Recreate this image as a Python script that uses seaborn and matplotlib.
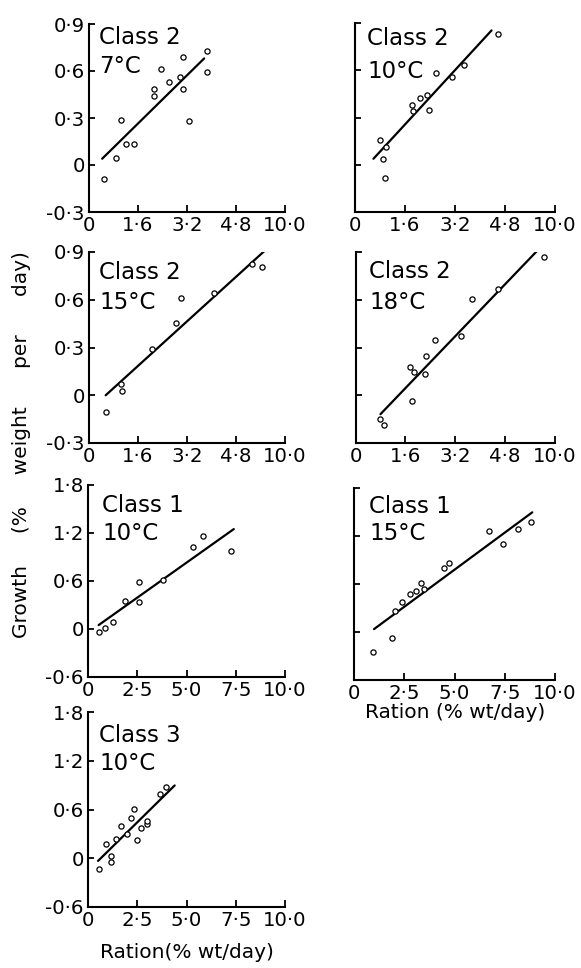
import matplotlib
matplotlib.use("Agg")
import matplotlib.pyplot as plt
import seaborn as sns
import pandas as pd

sns.set_style("ticks")
plt.rcParams['font.family'] = ['DejaVu Sans']
for k in ["text.color", "axes.labelcolor", "xtick.color", "ytick.color", "axes.edgecolor"]:
    plt.rcParams[k] = "black"

# ---------------- data ----------------
# Class 2, 7 C
p1_x = [0.49, 0.88, 1.03, 1.21, 1.46, 2.11, 2.11, 2.35, 2.62, 2.98, 3.06, 3.08, 3.28, 3.84, 3.86]
p1_y = [-0.087, 0.043, 0.285, 0.132, 0.132, 0.487, 0.44, 0.615, 0.53, 0.56, 0.69, 0.487, 0.28, 0.73, 0.595]
p1_line_x = [0.43, 3.76]
p1_line_y = [0.04, 0.68]
# Class 2, 10 C
p2_x = [0.80, 0.91, 0.98, 0.95, 1.81, 1.85, 2.08, 2.29, 2.38, 2.59, 3.11, 3.48, 4.59]
p2_y = [0.155, 0.034, 0.112, -0.085, 0.381, 0.339, 0.421, 0.442, 0.349, 0.582, 0.559, 0.631, 0.83]
p2_line_x = [0.59, 4.37]
p2_line_y = [0.038, 0.853]
# Class 2, 15 C
p3_x = [0.57, 1.06, 1.09, 2.05, 2.83, 3.00, 4.09, 5.33, 5.64]
p3_y = [-0.105, 0.073, 0.025, 0.291, 0.454, 0.611, 0.643, 0.827, 0.804]
p3_line_x = [0.545, 5.75]
p3_line_y = [0.0, 0.91]
# Class 2, 18 C
p4_x = [0.78, 0.91, 1.74, 1.81, 1.88, 2.22, 2.27, 2.56, 3.40, 3.75, 4.58, 6.05]
p4_y = [-0.148, -0.185, 0.175, -0.033, 0.144, 0.136, 0.247, 0.348, 0.375, 0.607, 0.669, 0.867]
p4_line_x = [0.80, 5.86]
p4_line_y = [-0.119, 0.914]
# Class 1, 10 C
p5_x = [0.54, 0.88, 1.26, 1.87, 2.59, 2.59, 3.83, 5.31, 5.82, 7.26]
p5_y = [-0.033, 0.016, 0.085, 0.35, 0.59, 0.342, 0.61, 1.025, 1.16, 0.972]
p5_line_x = [0.54, 7.40]
p5_line_y = [0.049, 1.249]
# Class 1, 15 C
p6_x = [0.93, 1.87, 2.04, 2.37, 2.79, 3.07, 3.33, 3.48, 4.49, 4.73, 6.73, 7.40, 8.18, 8.79]
p6_y = [-0.247, -0.073, 0.259, 0.377, 0.47, 0.507, 0.616, 0.539, 0.795, 0.859, 1.265, 1.095, 1.285, 1.374]
p6_line_x = [0.995, 8.87]
p6_line_y = [0.036, 1.496]
# Class 3, 10 C
p7_x = [0.54, 0.92, 1.17, 1.19, 1.43, 1.68, 1.96, 2.16, 2.35, 2.47, 2.70, 2.99, 2.99, 3.66, 3.95]
p7_y = [-0.135, 0.18, 0.029, -0.041, 0.233, 0.397, 0.294, 0.491, 0.609, 0.221, 0.368, 0.421, 0.462, 0.785, 0.883]
p7_line_x = [0.51, 4.40]
p7_line_y = [-0.033, 0.896]

class_labels = ["Class 2", "Class 2", "Class 2", "Class 2", "Class 1", "Class 1", "Class 3"]
temp_labels = ["7°C", "10°C", "15°C", "18°C", "10°C", "15°C", "10°C"]

xticks_a = [0, 1.6, 3.2, 4.8, 6.4]
xticklabels_a = ["0", "1·6", "3·2", "4·8", "10·0"]
yticks_a = [-0.3, 0, 0.3, 0.6, 0.9]
yticklabels_a = ["-0·3", "0", "0·3", "0·6", "0·9"]

xticks_b = [0, 2.5, 5.0, 7.5, 10.0]
xticklabels_b = ["0", "2·5", "5·0", "7·5", "10·0"]
yticks_b = [-0.6, 0, 0.6, 1.2, 1.8]
yticklabels_b = ["-0·6", "0", "0·6", "1·2", "1·8"]

# ---------------- layout ----------------
W, H = 581, 968
fig = plt.figure(figsize=(W / 100, H / 100), dpi=100)
fig.patch.set_facecolor("white")

panels = [
    (p1_x, p1_y, p1_line_x, p1_line_y, (89, 285, 24, 212), "a", True, (10, -20, -49)),
    (p2_x, p2_y, p2_line_x, p2_line_y, (355, 555, 23, 212), "a", False, (12, -22, -55)),
    (p3_x, p3_y, p3_line_x, p3_line_y, (89, 285, 252, 443), "a", True, (10, -27.5, -57.5)),
    (p4_x, p4_y, p4_line_x, p4_line_y, (355.5, 555, 252, 443), "a", False, (13.5, -26.5, -57.5)),
    (p5_x, p5_y, p5_line_x, p5_line_y, (88, 285, 485, 677), "b", True, (14.5, -27.5, -55.5)),
    (p6_x, p6_y, p6_line_x, p6_line_y, (354, 555, 488, 680), "b", False, (15, -25, -52.5)),
    (p7_x, p7_y, p7_line_x, p7_line_y, (88, 285, 712, 907), "b", True, (11, -29.5, -57.5)),
]

PX = 0.72  # points per pixel at 100 dpi
tick_fs = 14.2
txt_fs = 16.5

for i, (xs, ys, lx, ly, (l, r, t, b), scale, ylab, (dx, dy1, dy2)) in enumerate(panels):
    ax = fig.add_axes([l / W, 1 - b / H, (r - l) / W, (b - t) / H])
    ax.set_facecolor("none")
    df = pd.DataFrame({"x": xs, "y": ys})
    dl = pd.DataFrame({"x": lx, "y": ly})
    sns.lineplot(data=dl, x="x", y="y", ax=ax, color="black", linewidth=1.6, sort=False)
    sns.scatterplot(data=df, x="x", y="y", ax=ax, s=14, facecolor="white",
                    edgecolor="black", linewidth=0.9, zorder=3)
    if scale == "a":
        ax.set_xlim(0, 6.4)
        ax.set_ylim(-0.3, 0.9)
        ax.set_xticks(xticks_a)
        ax.set_xticklabels(xticklabels_a)
        ax.set_yticks(yticks_a)
        ax.set_yticklabels(yticklabels_a if ylab else [])
    else:
        ax.set_xlim(0, 10)
        ax.set_ylim(-0.6, 1.8)
        ax.set_xticks(xticks_b)
        ax.set_xticklabels(xticklabels_b)
        ax.set_yticks(yticks_b)
        ax.set_yticklabels(yticklabels_b if ylab else [])
    ax.set_xlabel("")
    ax.set_ylabel("")
    for s in ["top", "right"]:
        ax.spines[s].set_visible(False)
    for s in ["left", "bottom"]:
        ax.spines[s].set_linewidth(1.5)
        ax.spines[s].set_capstyle("projecting")
    ax.tick_params(axis="x", direction="in", length=5, width=1.3, labelsize=tick_fs, pad=3)
    ax.tick_params(axis="y", direction="in", length=4, width=1.3, labelsize=tick_fs, pad=3)
    ax.annotate(class_labels[i], xy=(0, 1), xycoords="axes fraction",
                xytext=(dx * PX, dy1 * PX), textcoords="offset points",
                fontsize=txt_fs, ha="left", va="baseline")
    ax.annotate(temp_labels[i], xy=(0, 1), xycoords="axes fraction",
                xytext=(dx * PX, dy2 * PX), textcoords="offset points",
                fontsize=txt_fs, ha="left", va="baseline")

fig.text(22 / W, 1 - 445 / H, "Growth     (%     weight      per      day)", rotation=90,
         ha="center", va="center", fontsize=14.5)
fig.text(455 / W, 1 - 712 / H, "Ration (% wt/day)", ha="center", va="center", fontsize=14.5)
fig.text(187 / W, 1 - 952 / H, "Ration(% wt/day)", ha="center", va="center", fontsize=14.5)

fig.savefig("out.png", dpi=100, facecolor="white")
